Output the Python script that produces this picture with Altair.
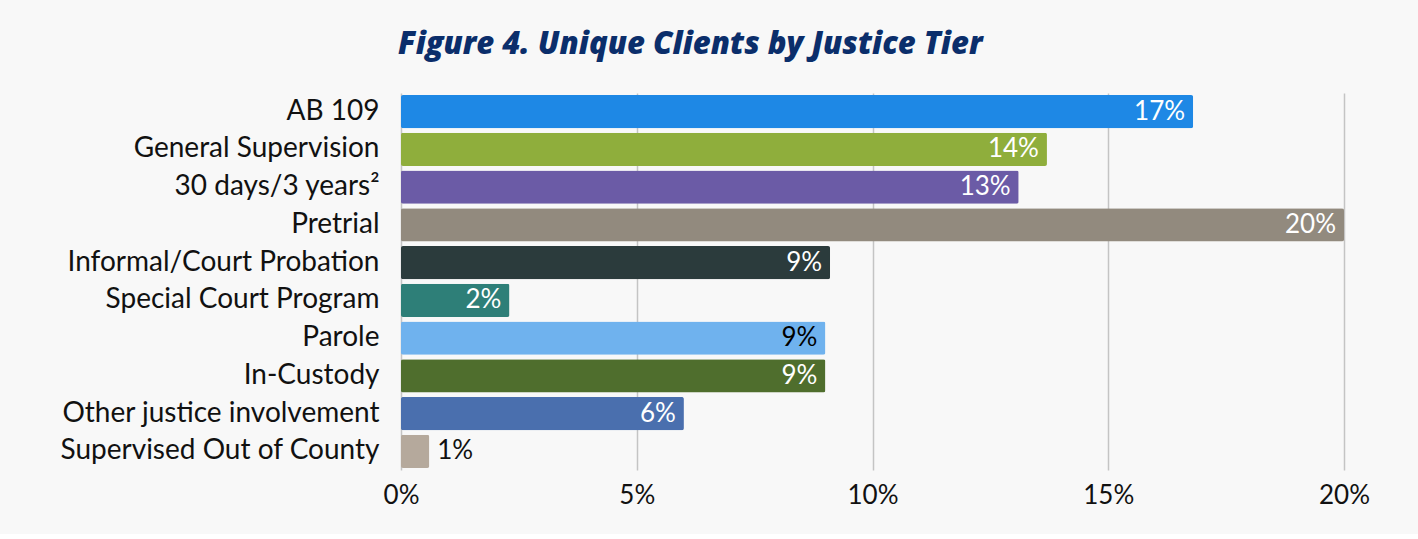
import altair as alt
import pandas as pd

tiers = [
    "AB 109",
    "General Supervision",
    "30 days/3 years²",
    "Pretrial",
    "Informal/Court Probation",
    "Special Court Program",
    "Parole",
    "In-Custody",
    "Other justice involvement",
    "Supervised Out of County",
]
shares = [0.168, 0.137, 0.131, 0.200, 0.091, 0.023, 0.090, 0.090, 0.060, 0.006]
palette = ["#1e88e5", "#8fae3c", "#6b5ba6", "#928a7e", "#2b3b3c",
           "#2e7f78", "#6fb2ee", "#4f6e2d", "#4a6fae", "#b5a99c"]
tick_values = [0, 0.05, 0.10, 0.15, 0.20]

df = pd.DataFrame({"tier": tiers, "share": shares})

FONT = "Lato"

y = alt.Y(
    "tier:N", sort=tiers, title=None,
    scale=alt.Scale(paddingInner=0.12, paddingOuter=0.055),
    axis=alt.Axis(labelFontSize=28, labelColor="#111111", labelFont=FONT,
                  ticks=False, domain=False, labelPadding=22,
                  minExtent=390, maxExtent=390, labelLimit=400),
)
x = alt.X(
    "share:Q", title=None,
    scale=alt.Scale(domain=[0, 0.2], nice=False),
    axis=alt.Axis(format=".0%", values=tick_values, grid=True,
                  gridColor="#c4c4c4", gridWidth=1.5, domain=False,
                  ticks=False, labelFontSize=26, labelPadding=12,
                  labelFlush=False, labelFont=FONT, labelColor="#111111"),
)

base = alt.Chart(df).encode(y=y, x=x)

bars = base.mark_bar(cornerRadius=2).encode(
    color=alt.Color("tier:N", scale=alt.Scale(domain=tiers, range=palette), legend=None)
)

inside = base.transform_filter("datum.share >= 0.015").mark_text(
    align="right", baseline="middle", dx=-8, fontSize=26, font=FONT
).encode(
    text=alt.Text("share:Q", format=".0%"),
    color=alt.condition("datum.tier == 'Parole'", alt.value("#000000"), alt.value("#ffffff")),
)

outside = base.transform_filter("datum.share < 0.015").mark_text(
    align="left", baseline="middle", dx=8, fontSize=26, font=FONT, color="#111111"
).encode(text=alt.Text("share:Q", format=".0%"))

chart = alt.layer(bars, inside, outside).properties(
    width=943, height=377,
    title=alt.TitleParams(
        "Figure 4. Unique Clients by Justice Tier", font="Open Sans", fontSize=31,
        fontWeight=800, fontStyle="italic", color="#0b2e6b",
        anchor="middle", frame="bounds", offset=32,
    ),
    padding={"left": 11, "top": 29, "right": 48, "bottom": 26},
    background="#f8f8f8",
).configure_view(stroke=None)

chart.save("out.html", embed_options={"renderer": "svg", "actions": False})
